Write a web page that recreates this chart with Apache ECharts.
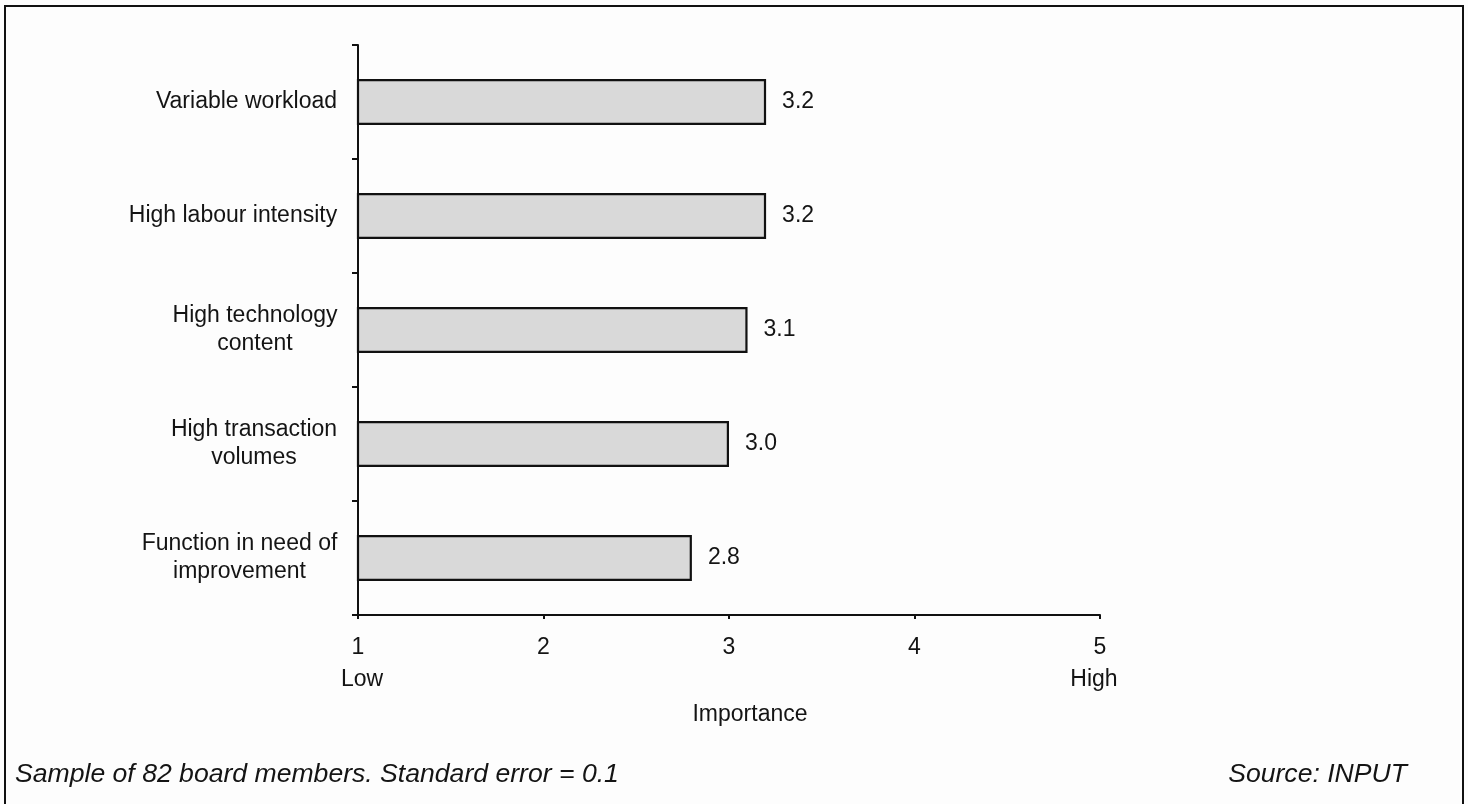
<!DOCTYPE html>
<html>
<head>
<meta charset="utf-8">
<script src="https://cdn.jsdelivr.net/npm/echarts@6/dist/echarts.min.js"></script>
<style>
  html, body { margin: 0; padding: 0; background: #fdfdfd; }
  #chart { width: 1468px; height: 804px; }
</style>
</head>
<body>
<div id="chart"></div>
<script>
// ---- data ----
const categories = [
  'Variable workload',
  'High labour intensity',
  'High technology\ncontent',
  'High transaction\nvolumes',
  'Function in need of\nimprovement'
];
const values = [3.2, 3.2, 3.1, 3.0, 2.8];
const tickLabels = ['1', '2', '3', '4', '5'];
const endLabels = { 1: 'Low', 5: 'High' };
const axisTitle = 'Importance';
const footnote = 'Sample of 82 board members. Standard error = 0.1';
const sourceNote = 'Source: INPUT';

// ---- styling ----
const FONT = '"Liberation Sans", Arial, sans-serif';
const TXT = '#141414';
const LABEL_SIZE = 23;

// measure lines so multi-line labels can be centred within a right-aligned block
const ctx = document.createElement('canvas').getContext('2d');
ctx.font = LABEL_SIZE + 'px ' + FONT;
const rich = {};
categories.forEach((c, i) => {
  const w = Math.max(...c.split('\n').map(l => ctx.measureText(l).width));
  rich['r' + i] = { width: Math.ceil(w) + 1, align: 'center', fontSize: LABEL_SIZE, fontFamily: FONT, color: TXT, lineHeight: 28 };
});

const chart = echarts.init(document.getElementById('chart'), null, { renderer: 'canvas' });

chart.setOption({
  backgroundColor: '#fdfdfd',
  animation: false,
  textStyle: { fontFamily: FONT, color: TXT },
  grid: { left: 358, right: 368, top: 45, bottom: 189, containLabel: false },
  xAxis: {
    type: 'value',
    min: 1, max: 5, interval: 1,
    name: axisTitle,
    nameLocation: 'middle',
    nameGap: 88,
    nameTextStyle: { fontSize: LABEL_SIZE, color: TXT, fontFamily: FONT, padding: [0, 0, 0, 42] },
    splitLine: { show: false },
    axisLine: { show: true, onZero: false, lineStyle: { color: '#111', width: 2 } },
    axisTick: { show: true, length: 4, lineStyle: { color: '#111', width: 2 } },
    axisLabel: {
      margin: 17,
      formatter: (v) => {
        const idx = Math.round(v) - 1;
        const t = tickLabels[idx] !== undefined ? tickLabels[idx] : String(v);
        const e = endLabels[Math.round(v)];
        if (!e) return '{n|' + t + '}';
        return '{n|' + t + '}\n{' + (Math.round(v) === 1 ? 'lo' : 'hi') + '|' + e + '}';
      },
      rich: {
        n: { fontSize: LABEL_SIZE, fontFamily: FONT, color: TXT, lineHeight: 32 },
        lo: { fontSize: LABEL_SIZE, fontFamily: FONT, color: TXT, lineHeight: 32, padding: [0, 0, 0, 8] },
        hi: { fontSize: LABEL_SIZE, fontFamily: FONT, color: TXT, lineHeight: 32, padding: [0, 12, 0, 0] }
      }
    }
  },
  yAxis: {
    type: 'category',
    inverse: true,
    data: categories,
    axisLine: { show: true, lineStyle: { color: '#111', width: 2 } },
    axisTick: { show: true, length: 6, lineStyle: { color: '#111', width: 2 } },
    axisLabel: {
      margin: 20,
      align: 'right',
      formatter: (v, i) => v.split('\n').map(l => '{r' + i + '|' + l + '}').join('\n'),
      rich: rich
    }
  },
  series: [{
    type: 'bar',
    data: values,
    barWidth: 46,
    itemStyle: { color: '#d9d9d9', borderColor: '#111', borderWidth: 2.2 },
    label: {
      show: true,
      position: 'right',
      distance: 16,
      fontSize: LABEL_SIZE,
      fontFamily: FONT,
      color: TXT,
      formatter: (p) => Number(p.value).toFixed(1)
    }
  }],
  graphic: [
    {
      type: 'rect',
      shape: { x: 5, y: 6, width: 1458, height: 830 },
      style: { fill: 'none', stroke: '#111', lineWidth: 2 },
      silent: true
    },
    {
      type: 'text',
      left: 15, top: 761,
      style: { text: footnote, font: 'italic 26.6px ' + FONT, fill: TXT }
    },
    {
      type: 'text',
      right: 61, top: 761,
      style: { text: sourceNote, font: 'italic 26.6px ' + FONT, fill: TXT, textAlign: 'right' }
    }
  ]
});
</script>
</body>
</html>
